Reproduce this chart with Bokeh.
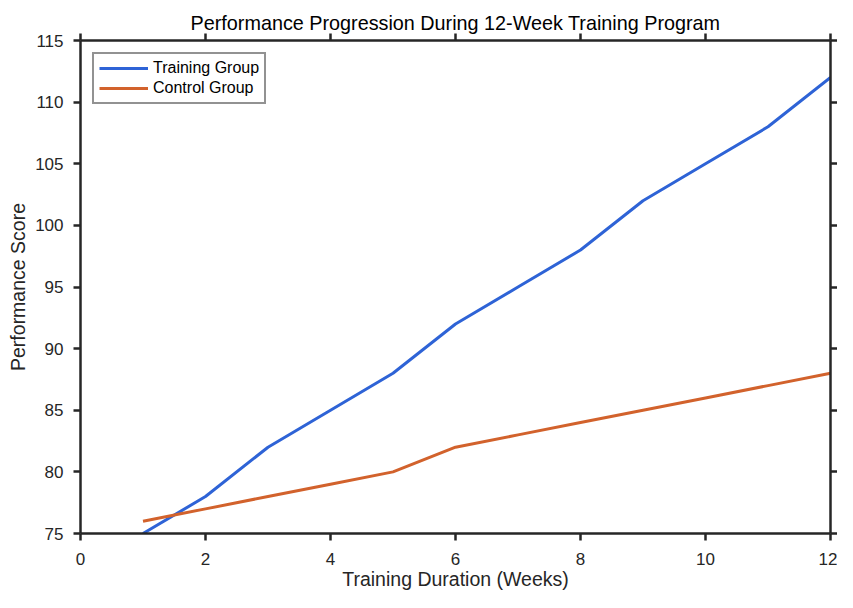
from bokeh.plotting import figure
from bokeh.models import Range1d, LinearAxis, FixedTicker, Legend, LegendItem, Spacer
from bokeh.layouts import column, row
from bokeh.embed import file_html
from bokeh.resources import INLINE

weeks = [1, 2, 3, 4, 5, 6, 7, 8, 9, 10, 11, 12]
training = [75, 78, 82, 85, 88, 92, 95, 98, 102, 105, 108, 112]
control = [76, 77, 78, 79, 80, 82, 83, 84, 85, 86, 87, 88]
x_ticks = [0, 2, 4, 6, 8, 10, 12]
y_ticks = [75, 80, 85, 90, 95, 100, 105, 110, 115]

FONT = "Liberation Sans"
AX = "#262626"

p = figure(width=833, height=583, output_backend="svg", toolbar_location=None,
           x_range=Range1d(0, 12), y_range=Range1d(75, 115),
           title="Performance Progression During 12-Week Training Program",
           min_border_left=0, min_border_right=0, min_border_top=0, min_border_bottom=0)
p.title.align = "center"
p.title.text_font = FONT
p.title.text_font_size = "19.8px"
p.title.text_font_style = "normal"
p.title.text_color = "#000000"
p.title.standoff = 0

p.grid.visible = False
p.outline_line_color = None

def style(ax):
    ax.axis_line_color = AX
    ax.axis_line_width = 2.5
    ax.major_tick_line_color = AX
    ax.major_tick_line_width = 2.5
    ax.major_tick_in = 0
    ax.major_tick_out = 7
    ax.minor_tick_line_color = None
    ax.major_label_text_font = FONT
    ax.major_label_text_font_size = "17px"
    ax.major_label_text_color = AX
    ax.axis_label_text_font = FONT
    ax.axis_label_text_font_size = "19.5px"
    ax.axis_label_text_font_style = "normal"
    ax.axis_label_text_color = AX

p.xaxis.ticker = FixedTicker(ticks=x_ticks)
p.yaxis.ticker = FixedTicker(ticks=y_ticks)
p.xaxis.axis_label = "Training Duration (Weeks)"
p.yaxis.axis_label = "Performance Score"
style(p.xaxis[0])
style(p.yaxis[0])
p.xaxis.major_label_standoff = 12
p.yaxis.major_label_standoff = 10
p.xaxis.axis_label_standoff = 0
p.yaxis.axis_label_standoff = 3

top = LinearAxis(ticker=FixedTicker(ticks=x_ticks), major_label_standoff=0,
                 axis_label_standoff=0,
                 major_label_overrides={t: "" for t in x_ticks})
right = LinearAxis(ticker=FixedTicker(ticks=y_ticks), major_label_standoff=0,
                   axis_label_standoff=0,
                   major_label_overrides={t: "" for t in y_ticks})
style(top)
style(right)
p.add_layout(top, "above")
p.add_layout(right, "right")

r1 = p.line(weeks, training, line_color="#2e63d6", line_width=3)
r2 = p.line(weeks, control, line_color="#d2622c", line_width=3)

leg = Legend(items=[LegendItem(label="Training Group", renderers=[r1]),
                    LegendItem(label="Control Group", renderers=[r2])],
             location="top_left")
leg.label_text_font = FONT
leg.label_text_font_size = "16px"
leg.label_text_color = "#000000"
leg.border_line_color = AX
leg.border_line_width = 2
leg.glyph_width = 49
leg.glyph_height = 18
leg.label_height = 18
leg.spacing = 2
leg.padding = 5
leg.margin = 12
leg.label_standoff = 5
leg.background_fill_color = "white"
p.add_layout(leg)

layout = column(Spacer(width=837, height=9), row(Spacer(width=4, height=583), p))
open("out.html", "w").write(file_html(layout, INLINE))
